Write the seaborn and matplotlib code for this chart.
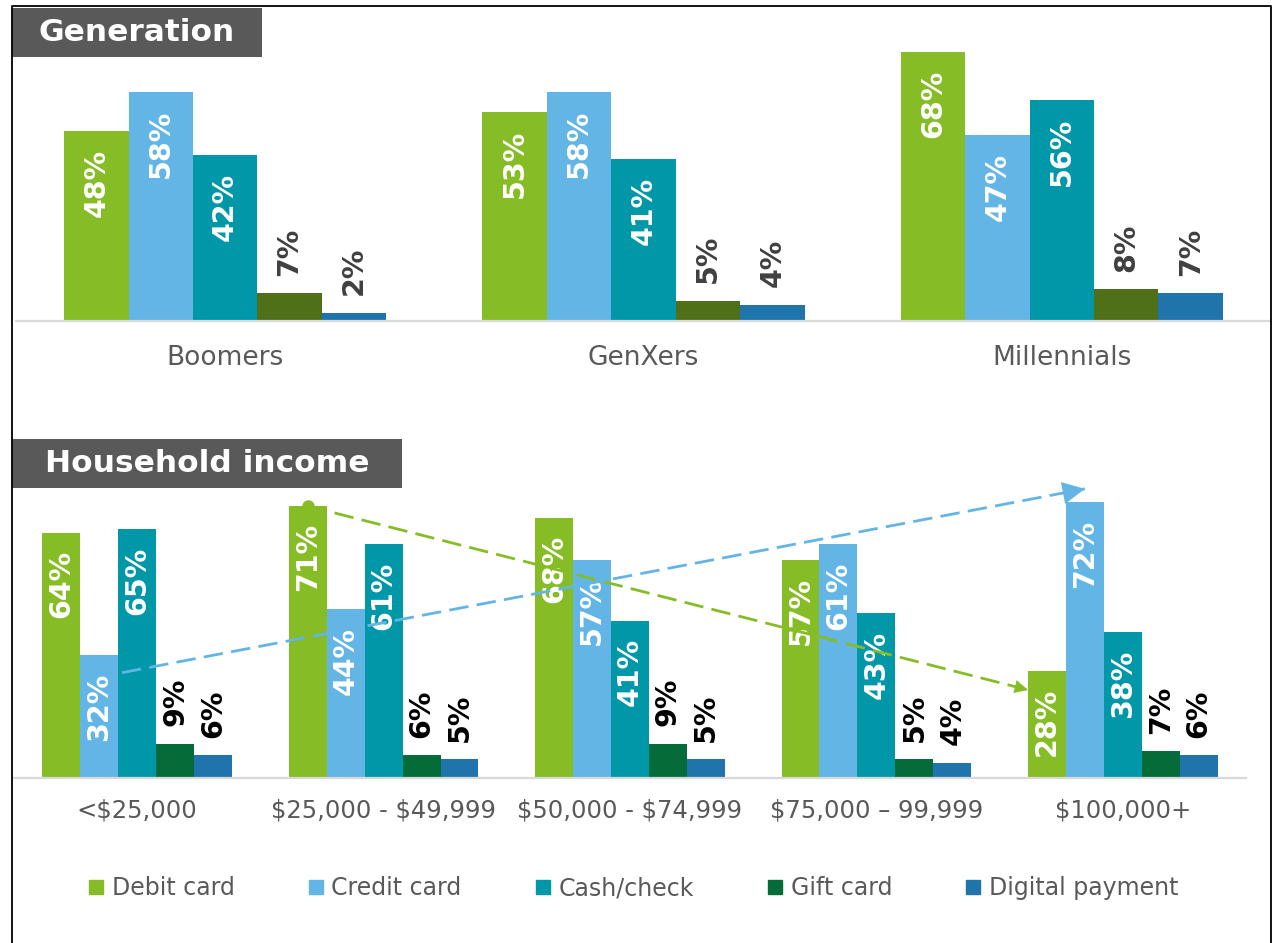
import matplotlib
matplotlib.use("Agg")
import matplotlib.pyplot as plt
from matplotlib.lines import Line2D
from matplotlib.patches import Rectangle
import seaborn as sns
import pandas as pd

# Data
methods = ["Debit card", "Credit card", "Cash/check", "Gift card", "Digital payment"]

generations = ["Boomers", "GenXers", "Millennials"]
gen_debit = [48, 53, 68]
gen_credit = [58, 58, 47]
gen_cash = [42, 41, 56]
gen_gift = [7, 5, 8]
gen_digital = [2, 4, 7]

incomes = ["<$25,000", "$25,000 - $49,999", "$50,000 - $74,999",
           "$75,000 \u2013 99,999", "$100,000+"]
inc_debit = [64, 71, 68, 57, 28]
inc_credit = [32, 44, 57, 61, 72]
inc_cash = [65, 61, 41, 43, 38]
inc_gift = [9, 6, 9, 5, 7]
inc_digital = [6, 5, 5, 4, 6]

top_colors = ["#86bc25", "#62b5e5", "#0097a9", "#4f7019", "#1f75ab"]
bottom_colors = ["#86bc25", "#62b5e5", "#0097a9", "#056b39", "#1f75ab"]

sns.set_style("white")
plt.rcParams["font.family"] = ["DejaVu Sans"]
plt.rcParams["text.parse_math"] = False

W, H = 1274, 943
fig = plt.figure(figsize=(W / 100, H / 100), dpi=100)
fig.patch.set_facecolor("white")


def long_table(cats, series):
    rows = []
    for m, vals in zip(methods, series):
        for c, v in zip(cats, vals):
            rows.append({"group": c, "method": m, "value": v})
    return pd.DataFrame(rows)


def draw_panel(ax, cats, series, colors, ymax, label_size, out_color, pad):
    df = long_table(cats, series)
    sns.barplot(data=df, x="group", y="value", hue="method", order=cats,
                hue_order=methods, palette=colors, saturation=1, width=0.77,
                errorbar=None, legend=False, linewidth=0, ax=ax)
    ax.set_xlim(-0.5, len(cats) - 0.5)
    ax.set_ylim(0, ymax)
    ax.set_yticks([])
    ax.set_xlabel("")
    ax.set_ylabel("")
    for side in ["top", "left", "right"]:
        ax.spines[side].set_visible(False)
    ax.spines["bottom"].set_color("#d9d9d9")
    ax.spines["bottom"].set_linewidth(1.6)
    ax.tick_params(axis="x", length=0, pad=pad, labelsize=label_size,
                   labelcolor="#595959")
    ax.set_facecolor("none")

    # value labels: white inside the big bars, dark above the small ones
    for i, cont in enumerate(ax.containers):
        for bar, v in zip(cont, cont.datavalues):
            x = bar.get_x() + bar.get_width() / 2
            if i < 3:
                ax.text(x, v - 4.5, f"{v:.0f}%", rotation=90, ha="center",
                        va="top", color="white", fontsize=20.5,
                        fontweight="bold")
            else:
                ax.text(x, v + 4.5, f"{v:.0f}%", rotation=90, ha="center",
                        va="bottom", color=out_color, fontsize=20.5,
                        fontweight="bold")


# top panel: generation
ax1 = fig.add_axes([16 / W, 1 - 321 / H, 1255 / W, 70 * 3.95 / H])
draw_panel(ax1, generations,
           [gen_debit, gen_credit, gen_cash, gen_gift, gen_digital],
           top_colors, 70, 19, "#404040", 17)

# bottom panel: household income
ax2 = fig.add_axes([14 / W, 1 - 778 / H, 1232 / W, 78 * 3.83 / H])
draw_panel(ax2, incomes,
           [inc_debit, inc_credit, inc_cash, inc_gift, inc_digital],
           bottom_colors, 78, 17.5, "black", 15)

# dashed trend arrows (debit falling, credit rising with income)
bw = 0.77 / 5
off_debit, off_credit = -2 * bw, -bw
n = len(incomes) - 1

gx0, gy0 = 1 + off_debit, inc_debit[1]
gx1, gy1 = n + off_debit - bw / 2, inc_debit[n] - 5
ax2.plot([gx0, gx1], [gy0, gy1], color="#86bc25", lw=2, ls=(0, (7, 3)),
         zorder=5)
ax2.plot(gx0, gy0, "o", color="#86bc25", ms=8, zorder=5)
ax2.annotate("", xy=(gx1, gy1),
             xytext=(gx1 - (gx1 - gx0) * 0.02, gy1 - (gy1 - gy0) * 0.02),
             arrowprops=dict(arrowstyle="-|>,head_length=0.6,head_width=0.3",
                             color="#86bc25", lw=0, shrinkA=0, shrinkB=0,
                             mutation_scale=16), zorder=5)

bx0, by0 = off_credit + bw / 2 + 0.015, inc_credit[0] - 4.5
bx1, by1 = n + off_credit, inc_credit[n] + 3.5
ax2.plot([bx0, bx1], [by0, by1], color="#62b5e5", lw=2, ls=(0, (7, 3)),
         zorder=5, clip_on=False)
ax2.annotate("", xy=(bx1, by1),
             xytext=(bx1 - (bx1 - bx0) * 0.02, by1 - (by1 - by0) * 0.02),
             arrowprops=dict(arrowstyle="-|>,head_length=0.8,head_width=0.4",
                             color="#62b5e5", lw=0, shrinkA=0, shrinkB=0,
                             mutation_scale=20), zorder=5,
             annotation_clip=False)

# section header boxes
for (x0, y0, x1, y1, title) in [(12, 8, 262, 57, "Generation"),
                                (12, 439, 402, 488, "Household income")]:
    fig.add_artist(Rectangle((x0 / W, 1 - y1 / H), (x1 - x0) / W,
                             (y1 - y0) / H, transform=fig.transFigure,
                             facecolor="#595959", edgecolor="none"))
    fig.text((x0 + x1) / 2 / W, 1 - (y0 + y1) / 2 / H, title, color="white",
             fontsize=22.5, fontweight="bold", ha="center", va="center")

# outer frame (left, top, right)
fig.add_artist(Line2D([12 / W, 12 / W, 1271 / W, 1271 / W],
                      [0, 1 - 6 / H, 1 - 6 / H, 0],
                      transform=fig.transFigure, color="black", lw=1.3))

# legend
handles = [Line2D([], [], marker="s", ls="", color=c, markersize=10)
           for c in bottom_colors]
fig.legend(handles, methods, loc="center", bbox_to_anchor=(0.497, 0.058),
           ncol=5, frameon=False, fontsize=17, columnspacing=3.1,
           handletextpad=0.3, handlelength=0.7, labelcolor="#595959")

fig.savefig("out.png", dpi=100, facecolor="white")
